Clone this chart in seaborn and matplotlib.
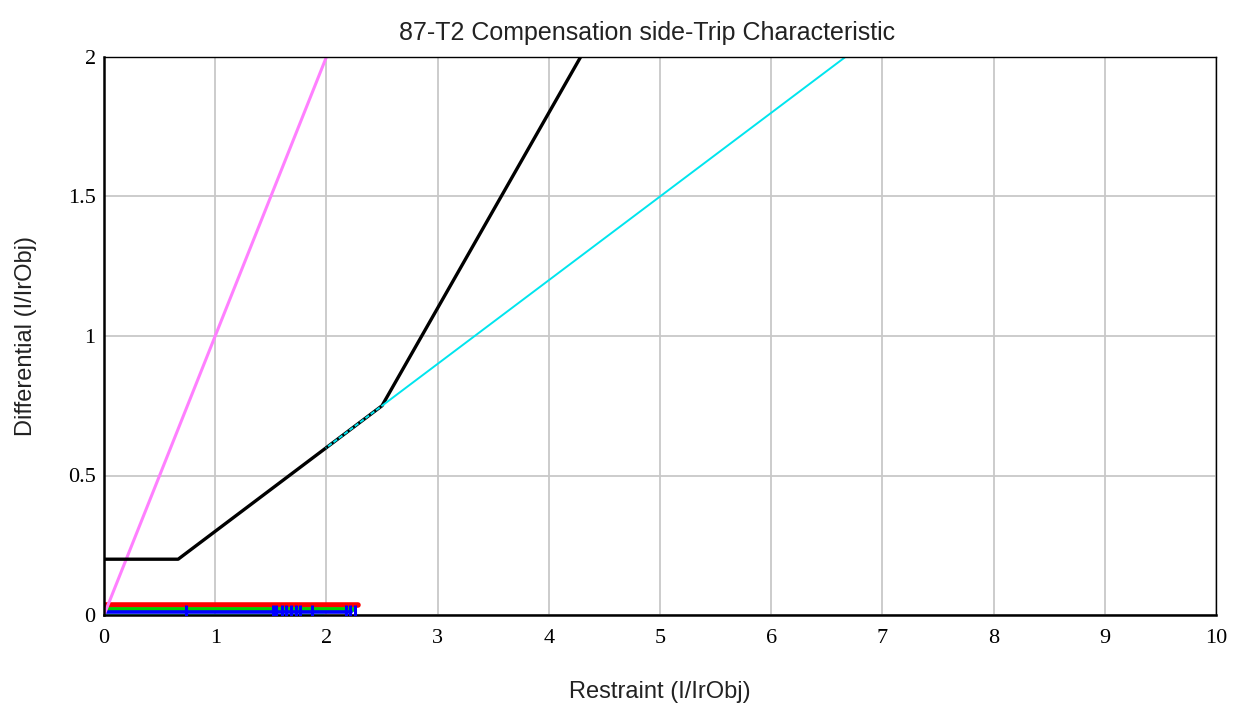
import matplotlib
matplotlib.use("Agg")
import matplotlib.pyplot as plt
import seaborn as sns
import pandas as pd
import numpy as np

# Trip characteristic (black)
char_x = [0.0, 0.667, 2.0, 2.5, 4.286]
char_y = [0.2, 0.2, 0.6, 0.75, 2.0]
# Slope line (cyan)
slope1_x = [2.0, 6.667]
slope1_y = [0.6, 2.0]
# Magenta line
mag_x = [0.0, 2.0]
mag_y = [0.0, 2.0]
# Bottom traces
red_x = [0.0, 2.28]
red_y = [0.035, 0.035]
green_x = [0.0, 2.24]
green_y = [0.021, 0.021]
blue_x = [0.0, 2.22]
blue_y = [0.009, 0.009]
cyan0_x = [0.0, 1.97]
cyan0_y = [0.0, 0.0]
marker_x = [0.74, 1.52, 1.55, 1.60, 1.64, 1.68, 1.73, 1.76, 1.87, 2.18, 2.21, 2.26]
marker_y = [0.015] * len(marker_x)

x_ticks = list(range(0, 11))
y_ticks = [0, 0.5, 1, 1.5, 2]
y_tick_labels = ["0", "0.5", "1", "1.5", "2"]

sns.set_style("white")
plt.rcParams['font.family'] = ['Liberation Sans', 'DejaVu Sans']

fig = plt.figure(figsize=(12.4, 7.07), dpi=100)
ax = fig.add_axes([104/1240, 1-615/707, (1216-104)/1240, (615-57)/707])

def line(x, y, color, lw, **kw):
    df = pd.DataFrame({"x": x, "y": y})
    sns.lineplot(data=df, x="x", y="y", ax=ax, color=color, linewidth=lw,
                 sort=False, estimator=None, **kw)

line(red_x, red_y, "#ff0000", 4.0, solid_capstyle="round")
line(green_x, green_y, "#00d000", 3.4)
line(blue_x, blue_y, "#0000ff", 2.6)
line(cyan0_x, cyan0_y, "#00ffff", 1.8)
dfm = pd.DataFrame({"x": marker_x, "y": marker_y})
sns.scatterplot(data=dfm, x="x", y="y", ax=ax, marker="|", s=80,
                color="#0000ff", linewidth=2.2, zorder=5)

line(mag_x, mag_y, "#ff80ff", 2.2)
line(char_x, char_y, "#000000", 2.4)
line(slope1_x, slope1_y, "#00e5ee", 1.4)
line(char_x[2:4], char_y[2:4], "#000000", 1.6, linestyle=(0, (1, 2)))

ax.set_xlim(0, 10)
ax.set_ylim(0, 2)
ax.set_xticks(x_ticks)
ax.set_yticks(y_ticks)
ax.set_yticklabels(y_tick_labels)
ax.grid(True, color="#c8c8c8", linewidth=1.3)
ax.set_axisbelow(True)
for s in ax.spines.values():
    s.set_visible(True)
    s.set_color("black")
    s.set_linewidth(1.0)
ax.spines["left"].set_linewidth(1.8)
ax.spines["bottom"].set_linewidth(1.8)
ax.tick_params(length=0, labelsize=16, colors="black")
ax.tick_params(axis="x", pad=10)
ax.tick_params(axis="y", pad=6)
for lab in ax.get_xticklabels() + ax.get_yticklabels():
    lab.set_family(["Liberation Serif", "DejaVu Serif"])

ax.set_xlabel("Restraint (I/IrObj)", fontsize=17, labelpad=24, color="#222222")
ax.set_ylabel("Differential (I/IrObj)", fontsize=17, labelpad=22, color="#222222")
ax.set_title("87-T2 Compensation side-Trip Characteristic", fontsize=18,
             pad=12, color="#222222", x=0.488)

fig.savefig("out.png", dpi=100)
